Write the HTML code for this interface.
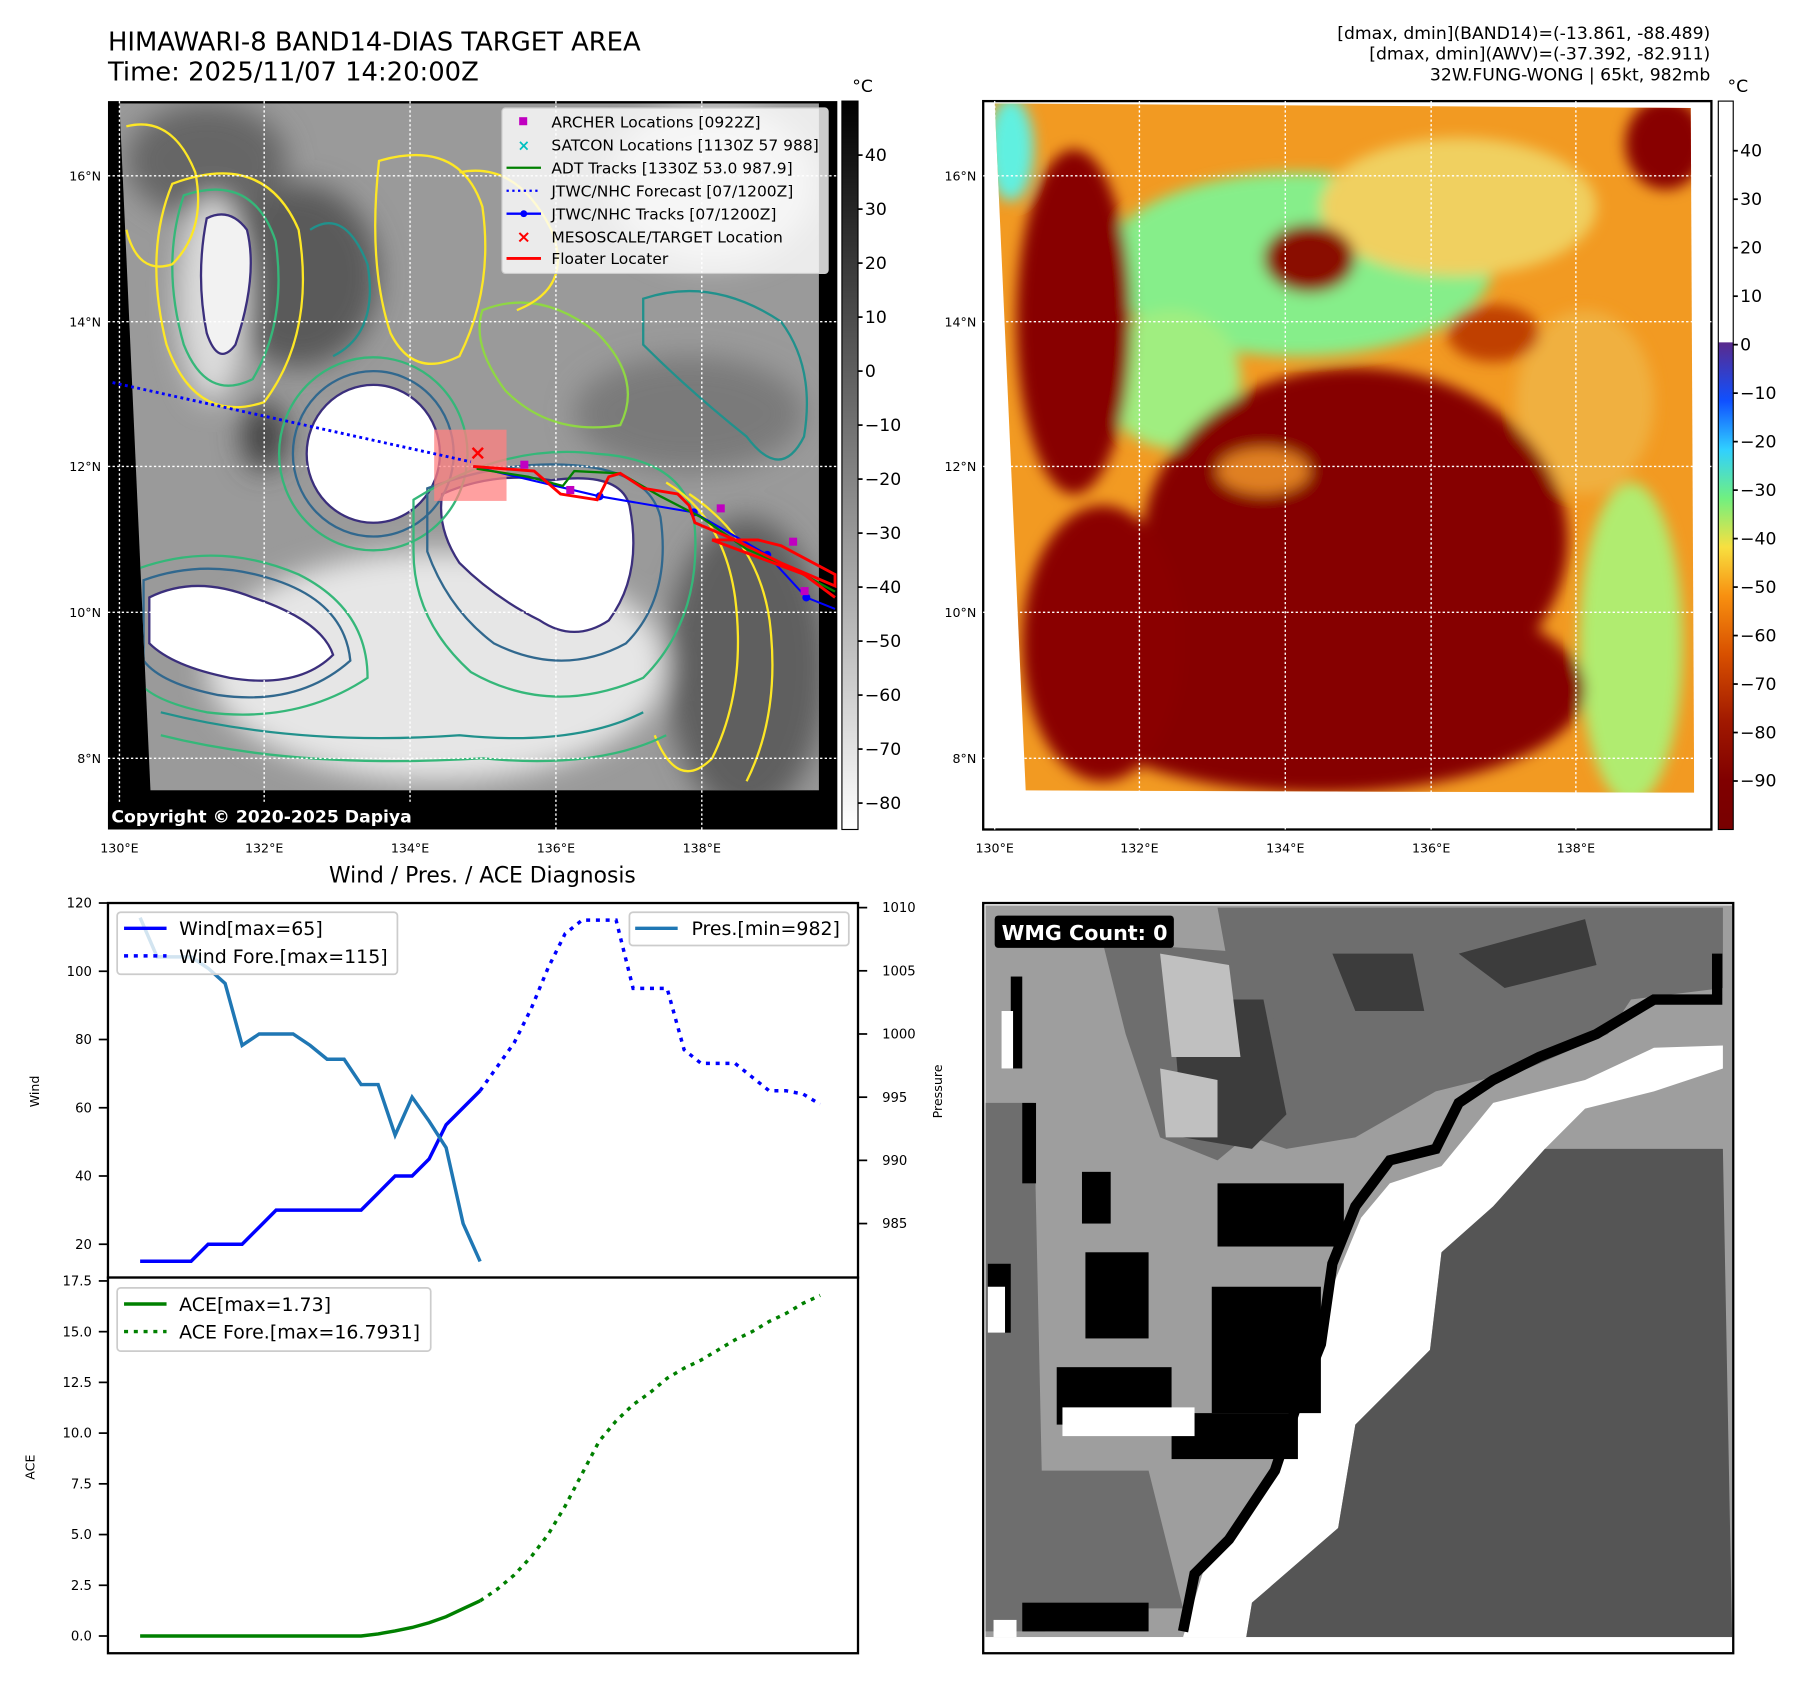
<!DOCTYPE html>
<html><head><meta charset="utf-8">
<style>
html,body{margin:0;padding:0;background:#fff;}
svg{display:block;font-family:"DejaVu Sans","Liberation Sans",sans-serif;}
</style></head>
<body>
<svg id="fig" width="1801" height="1690" viewBox="0 0 1568 1471" preserveAspectRatio="none" xmlns="http://www.w3.org/2000/svg">
<defs>
<filter id="blur6" x="-20%" y="-20%" width="140%" height="140%"><feGaussianBlur stdDeviation="6"/></filter>
<filter id="blur12" x="-30%" y="-30%" width="160%" height="160%"><feGaussianBlur stdDeviation="12"/></filter>
<linearGradient id="cbGray" x1="0" y1="0" x2="0" y2="1"><stop offset="0" stop-color="#000"/><stop offset="1" stop-color="#fff"/></linearGradient>
<linearGradient id="cbHot" x1="0" y1="0" x2="0" y2="1">
<stop offset="0" stop-color="#5a2a8c"/><stop offset="0.12" stop-color="#1050ff"/><stop offset="0.22" stop-color="#30d0ff"/>
<stop offset="0.32" stop-color="#70f080"/><stop offset="0.42" stop-color="#f8e040"/><stop offset="0.52" stop-color="#f89010"/>
<stop offset="0.64" stop-color="#d85000"/><stop offset="0.78" stop-color="#a01800"/><stop offset="0.9" stop-color="#800000"/><stop offset="1" stop-color="#780000"/></linearGradient>
<clipPath id="clipL"><polygon points="104,90 713,90 713,688 131,688"/></clipPath>
<clipPath id="clipR"><polygon points="866,90 1472,94 1475,690 893,688"/></clipPath>
<clipPath id="clipB"><rect x="858" y="788" width="650" height="637"/></clipPath>
</defs>

<text x="94" y="44" font-size="22.5">HIMAWARI-8 BAND14-DIAS TARGET AREA</text>
<text x="94" y="70" font-size="22.5">Time: 2025/11/07 14:20:00Z</text>
<g font-size="15" text-anchor="end">
<text x="1489" y="34">[dmax, dmin](BAND14)=(-13.861, -88.489)</text>
<text x="1489" y="52">[dmax, dmin](AWV)=(-37.392, -82.911)</text>
<text x="1489" y="70">32W.FUNG-WONG | 65kt, 982mb</text>
</g>

<!-- LEFT MAP -->
<g>
<rect x="94" y="88" width="635" height="634" fill="#000"/>
<g clip-path="url(#clipL)">
<rect x="100" y="88" width="620" height="610" fill="#9a9a9a"/>
<g filter="url(#blur12)">
<ellipse cx="260" cy="240" rx="70" ry="80" fill="#5a5a5a"/>
<ellipse cx="180" cy="140" rx="70" ry="50" fill="#666"/>
<ellipse cx="620" cy="160" rx="90" ry="70" fill="#cfcfcf"/>
<ellipse cx="650" cy="580" rx="70" ry="130" fill="#5e5e5e"/>
<ellipse cx="600" cy="360" rx="100" ry="50" fill="#7a7a7a"/>
<ellipse cx="230" cy="380" rx="20" ry="30" fill="#444"/>
<ellipse cx="380" cy="580" rx="200" ry="100" fill="#e6e6e6"/>
<ellipse cx="185" cy="260" rx="30" ry="90" fill="#dcdcdc"/>
</g>
<ellipse cx="325" cy="395" rx="58" ry="60" fill="#fff" stroke="#3b2f7c" stroke-width="2"/>
<path d="M385,430 Q430,410 480,418 Q540,410 548,440 Q560,500 530,540 Q500,560 470,540 Q430,520 400,490 Q380,460 385,430Z" fill="#fff" stroke="#3b2f7c" stroke-width="2"/>
<path d="M130,520 Q170,500 220,520 Q280,540 290,570 Q260,600 200,590 Q150,580 130,560Z" fill="#fff" stroke="#3b2f7c" stroke-width="2"/>
<path d="M180,190 Q200,180 215,200 Q225,240 205,300 Q190,320 180,290 Q170,240 180,190Z" fill="#f2f2f2" stroke="#3b2f7c" stroke-width="2"/>
<g fill="none" stroke-width="2">
<ellipse cx="325" cy="395" rx="70" ry="72" stroke="#31688e"/>
<ellipse cx="325" cy="395" rx="82" ry="84" stroke="#35b779"/>
<path d="M372,425 Q440,400 500,405 Q565,410 575,450 Q585,520 545,560 Q490,590 430,560 Q390,530 372,480Z" stroke="#31688e"/>
<path d="M360,435 Q440,385 520,395 Q600,400 605,460 Q610,540 560,590 Q480,625 410,585 Q360,540 360,480Z" stroke="#35b779"/>
<path d="M125,505 Q180,485 240,505 Q300,525 305,575 Q260,615 190,605 Q140,595 125,575Z" stroke="#31688e"/>
<path d="M120,495 Q190,470 260,500 Q320,530 320,590 Q260,630 180,620 Q130,610 118,590Z" stroke="#35b779"/>
<path d="M160,170 Q220,150 240,210 Q250,280 220,330 Q180,350 160,300 Q140,230 160,170Z" stroke="#35b779"/>
<path d="M150,160 Q230,130 260,200 Q275,290 230,350 Q170,370 145,300 Q125,220 150,160Z" stroke="#fde725"/>
<path d="M330,140 Q400,120 420,180 Q430,250 400,310 Q360,330 340,290 Q320,230 330,140Z" stroke="#fde725"/>
<path d="M420,270 Q470,250 520,290 Q560,330 540,370 Q480,380 440,340 Q410,300 420,270Z" stroke="#8fd744"/>
<path d="M560,260 Q620,240 680,280 Q710,320 700,380 Q680,420 650,380 Q600,340 560,300Z" stroke="#21918c"/>
<path d="M580,420 Q630,450 640,520 Q650,600 620,660 Q590,690 570,640" stroke="#fde725"/>
<path d="M600,430 Q660,470 670,540 Q680,620 650,680" stroke="#fde725"/>
<path d="M110,110 Q150,100 170,150 Q180,200 150,230 Q120,240 110,200" stroke="#fde725"/>
<path d="M270,200 Q300,180 320,230 Q330,290 290,310" stroke="#21918c"/>
<path d="M140,620 Q260,650 400,640 Q500,650 560,620" stroke="#21918c"/>
<path d="M140,640 Q260,670 420,660 Q520,670 580,640" stroke="#35b779"/>
<path d="M400,150 Q450,140 480,200 Q500,250 450,270" stroke="#fde725"/>
</g>
</g>
<g stroke="#fff" stroke-width="1.2" stroke-dasharray="2,2">
<line x1="104" y1="88" x2="104" y2="722"/><line x1="230" y1="88" x2="230" y2="722"/><line x1="357" y1="88" x2="357" y2="722"/><line x1="484" y1="88" x2="484" y2="722"/><line x1="611" y1="88" x2="611" y2="722"/>
<line x1="94" y1="153" x2="729" y2="153"/><line x1="94" y1="280" x2="729" y2="280"/><line x1="94" y1="406" x2="729" y2="406"/><line x1="94" y1="533" x2="729" y2="533"/><line x1="94" y1="660" x2="729" y2="660"/>
</g>
<g>
<rect x="378" y="374" width="63" height="62" fill="#ff8080" opacity="0.75"/>
<line x1="98" y1="333" x2="410" y2="402" stroke="#0000ff" stroke-width="2.5" stroke-dasharray="2.5,3"/>
<polyline points="412,406 522,432 604,446 668,483 702,520 727,530" fill="none" stroke="#0000ff" stroke-width="1.8"/>
<g fill="#0000ff"><circle cx="522" cy="432" r="3.5"/><circle cx="604" cy="446" r="3.5"/><circle cx="668" cy="483" r="3.5"/><circle cx="702" cy="520" r="3.5"/></g>
<polyline points="415,408 460,415 490,423 500,410 540,412 575,432 610,450 650,478 690,495 727,515" fill="none" stroke="#008000" stroke-width="2"/>
<polyline points="412,406 465,410 488,430 520,435 530,415 540,412 560,425 590,430 600,440 605,455 640,470 680,490 727,510 727,500 680,475 660,470 620,470 700,500 727,520" fill="none" stroke="#ff0000" stroke-width="2.5"/>
<g fill="#c000c0"><rect x="453" y="401" width="7" height="7"/><rect x="493" y="423" width="7" height="7"/><rect x="624" y="439" width="7" height="7"/><rect x="687" y="468" width="7" height="7"/><rect x="697" y="511" width="7" height="7"/></g>
<text x="416" y="400" fill="#ff0000" font-size="18" font-weight="bold" text-anchor="middle">×</text>
</g>
<rect x="94" y="698" width="270" height="24" fill="#000"/>
<text x="97" y="716" fill="#fff" font-size="15" font-weight="bold">Copyright © 2020-2025 Dapiya</text>
<g font-size="13.5">
<rect x="437" y="94" width="284" height="144" fill="#fff" fill-opacity="0.8" stroke="#ccc" rx="3"/>
<rect x="452" y="102" width="7" height="7" fill="#c000c0"/>
<text x="480" y="111">ARCHER Locations [0922Z]</text>
<text x="456" y="131" fill="#00c0c0" font-size="13" font-weight="bold" text-anchor="middle">×</text>
<text x="480" y="131">SATCON Locations [1130Z 57 988]</text>
<line x1="441" y1="146" x2="471" y2="146" stroke="#008000" stroke-width="2"/>
<text x="480" y="151">ADT Tracks [1330Z 53.0 987.9]</text>
<line x1="441" y1="166" x2="471" y2="166" stroke="#0000ff" stroke-width="2" stroke-dasharray="2,3"/>
<text x="480" y="171">JTWC/NHC Forecast [07/1200Z]</text>
<line x1="441" y1="186" x2="471" y2="186" stroke="#0000ff" stroke-width="2"/><circle cx="456" cy="186" r="3" fill="#0000ff"/>
<text x="480" y="191">JTWC/NHC Tracks [07/1200Z]</text>
<text x="456" y="211" fill="#ff0000" font-size="15" font-weight="bold" text-anchor="middle">×</text>
<text x="480" y="211">MESOSCALE/TARGET Location</text>
<line x1="441" y1="225" x2="471" y2="225" stroke="#ff0000" stroke-width="2.5"/>
<text x="480" y="230">Floater Locater</text>
</g>
<g font-size="11" fill="#000">
<text x="104" y="742" text-anchor="middle">130°E</text><text x="230" y="742" text-anchor="middle">132°E</text><text x="357" y="742" text-anchor="middle">134°E</text><text x="484" y="742" text-anchor="middle">136°E</text><text x="611" y="742" text-anchor="middle">138°E</text>
<text x="88" y="157" text-anchor="end">16°N</text><text x="88" y="284" text-anchor="end">14°N</text><text x="88" y="410" text-anchor="end">12°N</text><text x="88" y="537" text-anchor="end">10°N</text><text x="88" y="664" text-anchor="end">8°N</text>
</g>
</g>
<g font-size="15">
<rect x="733" y="88" width="14" height="634" fill="url(#cbGray)" stroke="#000" stroke-width="1"/>
<text x="742" y="80">°C</text>
<g id="cbLticks"></g>
</g>

<!-- RIGHT MAP -->
<g>
<rect x="856" y="88" width="634" height="634" fill="#fff" stroke="#000" stroke-width="2"/>
<g clip-path="url(#clipR)">
<rect x="860" y="88" width="620" height="610" fill="#f29a22"/>
<g filter="url(#blur6)">
<ellipse cx="1130" cy="230" rx="170" ry="80" fill="#86ee8a"/>
<ellipse cx="1270" cy="180" rx="120" ry="60" fill="#f0d060"/>
<ellipse cx="1020" cy="330" rx="60" ry="60" fill="#a0ee80"/>
<ellipse cx="880" cy="130" rx="20" ry="45" fill="#60f0e0"/>
<ellipse cx="1420" cy="560" rx="45" ry="140" fill="#b0ec70"/>
<ellipse cx="1380" cy="350" rx="60" ry="80" fill="#f0b040"/>
<ellipse cx="935" cy="280" rx="50" ry="150" fill="#880000"/>
<ellipse cx="1180" cy="470" rx="185" ry="150" fill="#860000"/>
<ellipse cx="1150" cy="600" rx="230" ry="90" fill="#860000"/>
<ellipse cx="960" cy="560" rx="70" ry="120" fill="#8a0500"/>
<ellipse cx="1450" cy="125" rx="35" ry="40" fill="#880000"/>
<ellipse cx="1140" cy="225" rx="40" ry="30" fill="#8a1000"/>
<ellipse cx="1300" cy="290" rx="40" ry="25" fill="#c04000"/>
<ellipse cx="1100" cy="410" rx="40" ry="20" fill="#e08020"/>
</g>
</g>
<g stroke="#fff" stroke-width="1.2" stroke-dasharray="2,2">
<line x1="866" y1="88" x2="866" y2="722"/><line x1="992" y1="88" x2="992" y2="722"/><line x1="1119" y1="88" x2="1119" y2="722"/><line x1="1246" y1="88" x2="1246" y2="722"/><line x1="1372" y1="88" x2="1372" y2="722"/>
<line x1="856" y1="153" x2="1490" y2="153"/><line x1="856" y1="280" x2="1490" y2="280"/><line x1="856" y1="406" x2="1490" y2="406"/><line x1="856" y1="533" x2="1490" y2="533"/><line x1="856" y1="660" x2="1490" y2="660"/>
</g>
<g font-size="11" fill="#000">
<text x="866" y="742" text-anchor="middle">130°E</text><text x="992" y="742" text-anchor="middle">132°E</text><text x="1119" y="742" text-anchor="middle">134°E</text><text x="1246" y="742" text-anchor="middle">136°E</text><text x="1372" y="742" text-anchor="middle">138°E</text>
<text x="850" y="157" text-anchor="end">16°N</text><text x="850" y="284" text-anchor="end">14°N</text><text x="850" y="410" text-anchor="end">12°N</text><text x="850" y="537" text-anchor="end">10°N</text><text x="850" y="664" text-anchor="end">8°N</text>
</g>
</g>
<g font-size="15">
<rect x="1496" y="88" width="13" height="210" fill="#fff"/>
<rect x="1496" y="298" width="13" height="424" fill="url(#cbHot)"/>
<rect x="1496" y="88" width="13" height="634" fill="none" stroke="#000" stroke-width="1"/>
<text x="1504" y="80">°C</text>
<g id="cbRticks"></g>
</g>

<!-- DIAGNOSIS CHART -->
<text x="420" y="768" font-size="19" text-anchor="middle">Wind / Pres. / ACE Diagnosis</text>
<g id="diag">
<rect x="94" y="786" width="653" height="326" fill="#fff" stroke="#000" stroke-width="2"/>
<rect x="94" y="1112" width="653" height="327" fill="#fff" stroke="#000" stroke-width="2"/>
<text transform="translate(34,950) rotate(-90)" font-size="11" text-anchor="middle">Wind</text>
<text transform="translate(820,950) rotate(-90)" font-size="11" text-anchor="middle">Pressure</text>
<text transform="translate(30,1277) rotate(-90)" font-size="11" text-anchor="middle">ACE</text>
<g id="ticks" font-size="11.5"></g>
<g id="series"></g>
<g font-size="16.5">
<rect x="102" y="794" width="244" height="54" fill="#fff" fill-opacity="0.8" stroke="#ccc" stroke-width="1.5" rx="3"/>
<line x1="108" y1="808" x2="145" y2="808" stroke="#0000ff" stroke-width="3"/>
<text x="156" y="814">Wind[max=65]</text>
<line x1="108" y1="832" x2="145" y2="832" stroke="#0000ff" stroke-width="3" stroke-dasharray="3.5,5"/>
<text x="156" y="838">Wind Fore.[max=115]</text>
</g>
<g font-size="16.5">
<rect x="548" y="794" width="191" height="29" fill="#fff" fill-opacity="0.8" stroke="#ccc" stroke-width="1.5" rx="3"/>
<line x1="553" y1="808" x2="590" y2="808" stroke="#1f77b4" stroke-width="3"/>
<text x="602" y="814">Pres.[min=982]</text>
</g>
<g font-size="16.5">
<rect x="102" y="1121" width="273" height="55" fill="#fff" fill-opacity="0.8" stroke="#ccc" stroke-width="1.5" rx="3"/>
<line x1="108" y1="1135" x2="145" y2="1135" stroke="#008000" stroke-width="3"/>
<text x="156" y="1141">ACE[max=1.73]</text>
<line x1="108" y1="1159" x2="145" y2="1159" stroke="#008000" stroke-width="3" stroke-dasharray="3.5,5"/>
<text x="156" y="1165">ACE Fore.[max=16.7931]</text>
</g>
</g>

<!-- WMG PANEL -->
<g>
<rect x="856" y="786" width="653" height="653" fill="#fff" stroke="#000" stroke-width="2"/>
<g clip-path="url(#clipB)">
<rect x="858" y="788" width="650" height="637" fill="#9e9e9e"/>
<polygon points="1060,790 1500,790 1500,860 1420,870 1400,900 1330,930 1250,950 1180,990 1120,1000 1090,990 1080,900" fill="#6e6e6e"/>
<polygon points="960,820 1100,830 1120,960 1060,1010 1010,990 980,900" fill="#6e6e6e"/>
<polygon points="1160,830 1230,830 1240,880 1180,880" fill="#3c3c3c"/>
<polygon points="1270,830 1380,800 1390,840 1310,860" fill="#3c3c3c"/>
<polygon points="1020,870 1100,870 1120,970 1090,1000 1030,990" fill="#3c3c3c"/>
<polygon points="1010,830 1070,840 1080,920 1020,920" fill="#c0c0c0"/>
<polygon points="1010,930 1060,940 1060,990 1015,990" fill="#c0c0c0"/>
<polygon points="858,960 900,960 910,1420 858,1420" fill="#6e6e6e"/>
<polygon points="858,1280 1000,1280 1030,1400 858,1400" fill="#6e6e6e"/>
<polygon points="1500,910 1440,912 1380,940 1300,960 1255,1015 1210,1030 1185,1060 1160,1120 1150,1175 1130,1230 1100,1300 1050,1360 1030,1425 1085,1425 1090,1395 1165,1330 1180,1240 1245,1175 1255,1090 1300,1050 1345,1000 1380,965 1440,950 1500,930" fill="#fff"/>
<polygon points="1345,1000 1500,1000 1508,1425 1085,1425 1090,1395 1165,1330 1180,1240 1245,1175 1255,1090 1300,1050" fill="#555"/>
<polyline points="1495,830 1495,870 1440,870 1390,900 1340,920 1300,940 1270,960 1250,1000 1210,1010 1180,1050 1160,1100 1150,1170 1130,1220 1110,1280 1070,1340 1040,1370 1030,1420" fill="none" stroke="#000" stroke-width="9"/>
<g fill="#000">
<rect x="945" y="1090" width="55" height="75"/><rect x="942" y="1020" width="25" height="45"/>
<rect x="1055" y="1120" width="95" height="110"/><rect x="920" y="1190" width="100" height="50"/>
<rect x="1060" y="1030" width="110" height="55"/><rect x="880" y="850" width="10" height="80"/>
<rect x="890" y="960" width="12" height="70"/><rect x="860" y="1100" width="20" height="60"/>
<rect x="890" y="1395" width="110" height="25"/><rect x="1020" y="1230" width="110" height="40"/>
</g>
<g fill="#fff">
<rect x="925" y="1225" width="115" height="25"/><rect x="872" y="880" width="10" height="50"/>
<rect x="860" y="1120" width="15" height="40"/><rect x="865" y="1410" width="20" height="15"/>
</g>
</g>
<rect x="866" y="797" width="156" height="28" rx="3" fill="#000"/>
<text x="872" y="818" fill="#fff" font-size="18" font-weight="bold">WMG Count: 0</text>
</g>

<script>
// diagnosis chart data (index = time step)
const windObs = [15,15,15,15,20,20,20,25,30,30,30,30,30,30,35,40,40,45,55,60,65];
const windFore = [65,72,79,89,101,111,115,115,115,95,95,95,77,73,73,73,69,65,65,64,61];
const presObs = [1009.2,1006.1,1006.1,1006.1,1005.2,1004.0,999.1,1000.0,1000.0,1000.0,999.1,998.0,998.0,996.0,996.0,992.0,995.0,993.1,991.0,985.0,982.0];
const aceObs = [0,0,0,0,0,0,0,0,0,0,0,0,0,0,0.1,0.25,0.42,0.65,0.95,1.35,1.73];
const aceFore = [1.73,2.3,3.0,3.9,5.0,6.4,8.0,9.6,10.6,11.4,12.0,12.7,13.2,13.6,14.1,14.6,15.0,15.5,15.9,16.4,16.79];
const windTicks = [20,40,60,80,100,120];
const presTicks = [985,990,995,1000,1005,1010];
const aceTicks = [0.0,2.5,5.0,7.5,10.0,12.5,15.0,17.5];
const irCbTicks = [40,30,20,10,0,-10,-20,-30,-40,-50,-60,-70,-80];
const awvCbTicks = [40,30,20,10,0,-10,-20,-30,-40,-50,-60,-70,-80,-90];

const NS = 'http://www.w3.org/2000/svg';
function xI(i){ return 122 + i*14.8; }
function yW(w){ return 786 + (120-w)*2.97; }
function yP(p){ return 790 + (1010-p)*11; }
function yA(a){ return 1424 - a*17.66; }
function yCbL(v){ return 323 - v*4.7; }
function yCbR(v){ return 300 - v*4.22; }
function mk(tag, parent){ const e=document.createElementNS(NS,tag); parent.appendChild(e); return e; }
function pts(arr, off, yf){ return arr.map((v,k)=>xI(k+off).toFixed(1)+','+yf(v).toFixed(1)).join(' '); }

const series = document.getElementById('series');
const defs = [
  [windObs,0,yW,'#0000ff',null,'wind-line'],
  [windFore,20,yW,'#0000ff','3.5,5','wind-forecast-line'],
  [presObs,0,yP,'#1f77b4',null,'pressure-line'],
  [aceObs,0,yA,'#008000',null,'ace-line'],
  [aceFore,20,yA,'#008000','3.5,5','ace-forecast-line']
];
defs.forEach(d=>{
  const pl = mk('polyline', series);
  
  
  pl.setAttribute('points', pts(d[0], d[1], d[2]));
  pl.setAttribute('fill','none');
  pl.setAttribute('stroke', d[3]);
  pl.setAttribute('stroke-width','3');
  if (d[4]) pl.setAttribute('stroke-dasharray', d[4]);
});

const ticks = document.getElementById('ticks');
function tick(x1,x2,y,label,tx,anchor,parent,dy){
  const l = mk('line', parent);
  l.setAttribute('x1',x1); l.setAttribute('x2',x2); l.setAttribute('y1',y); l.setAttribute('y2',y);
  l.setAttribute('stroke','#000'); l.setAttribute('stroke-width','1.5');
  const t = mk('text', parent);
  
  
  t.setAttribute('x', tx); t.setAttribute('y', y+dy); t.setAttribute('text-anchor', anchor);
  t.textContent = label;
}
windTicks.forEach(v=>tick(86,94,yW(v),String(v),80,'end',ticks,4));
presTicks.forEach(v=>tick(747,755,yP(v),String(v),768,'start',ticks,4));
aceTicks.forEach(v=>tick(86,94,yA(v),v.toFixed(1),80,'end',ticks,4));
const cbL = document.getElementById('cbLticks');
irCbTicks.forEach(v=>tick(747,751,yCbL(v),String(v).replace('-','\u2212'),753,'start',cbL,5));
const cbR = document.getElementById('cbRticks');
awvCbTicks.forEach(v=>tick(1509,1513,yCbR(v),String(v).replace('-','\u2212'),1515,'start',cbR,5));
</script>
</svg>
</body></html>
